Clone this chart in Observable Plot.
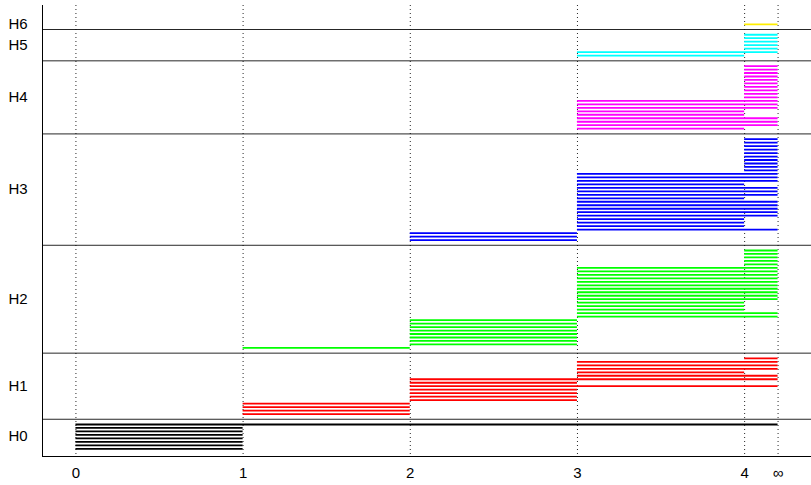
<!DOCTYPE html>
<html><head><meta charset="utf-8">
<script src="https://cdn.jsdelivr.net/npm/d3@7"></script>
<script src="https://cdn.jsdelivr.net/npm/@observablehq/plot@0.6"></script>
<style>body{margin:0;background:#fff}svg{display:block}</style>
</head><body><div id="chart"></div>
<script>
const INF = 4.2; // position of the "∞" column
const groupNames = ["H0", "H1", "H2", "H3", "H4", "H5", "H6"];
const groupColors = ["#000000", "#ff0000", "#00ff00", "#0000ff", "#ff00ff", "#00ffff", "#ffee00"];
const xTickValues = [0, 1, 2, 3, 4, "inf"];
const xTickLabels = ["0", "1", "2", "3", "4", "∞"];

// bars of each group, listed top to bottom: [birth, death]
const H0 = [[0,"inf"],[0,1],[0,1],[0,1],[0,1],[0,1],[0,1],[0,1]];
const H1 = [[4,"inf"],[3,"inf"],[3,"inf"],[3,"inf"],[3,4],[3,"inf"],[2,"inf"],[2,3],[2,"inf"],[2,3],[2,3],[2,3],[2,3],[1,2],[1,2],[1,2],[1,2]];
const H2 = [[4,"inf"],[4,"inf"],[4,"inf"],[4,"inf"],[4,"inf"],
  [3,"inf"],[3,"inf"],[3,"inf"],[3,"inf"],[3,"inf"],[3,"inf"],[3,"inf"],[3,"inf"],[3,"inf"],[3,"inf"],
  [3,4],[3,4],[3,4],[3,"inf"],[3,"inf"],
  [2,3],[2,3],[2,3],[2,3],[2,3],[2,3],[2,3],[2,3],[1,2]];
const H3 = [[4,"inf"],[4,"inf"],[4,"inf"],[4,"inf"],[4,"inf"],[4,"inf"],[4,"inf"],[4,"inf"],[4,"inf"],[4,"inf"],
  [3,"inf"],[3,"inf"],[3,"inf"],[3,4],[3,"inf"],[3,"inf"],[3,"inf"],[3,4],[3,"inf"],[3,"inf"],[3,"inf"],[3,"inf"],[3,"inf"],[3,4],[3,4],[3,4],[3,"inf"],
  [2,3],[2,3],[2,3]];
const H4 = [[4,"inf"],[4,"inf"],[4,"inf"],[4,"inf"],[4,"inf"],[4,"inf"],[4,"inf"],[4,"inf"],[4,"inf"],[4,"inf"],
  [3,"inf"],[3,"inf"],[3,"inf"],[3,4],[3,4],[3,"inf"],[3,"inf"],[3,"inf"],[3,4]];
const H5 = [[4,"inf"],[4,"inf"],[4,"inf"],[4,"inf"],[4,"inf"],[3,"inf"],[3,4]];
const H6 = [[4,"inf"]];
const groups = [H0, H1, H2, H3, H4, H5, H6];

const val = v => v === "inf" ? INF : v;
const GAP = 3; // row step between groups

const bars = [], labels = [], separators = [];
let start = 0;
groups.forEach((g, k) => {
  const rows = g.slice().reverse();
  rows.forEach((b, i) => bars.push({row: start + i, birth: val(b[0]), death: val(b[1]), color: groupColors[k]}));
  const last = start + rows.length - 1;
  labels.push({row: (start + last) / 2, name: groupNames[k]});
  if (k < groups.length - 1) separators.push(last + GAP / 2);
  start = last + GAP;
});
const ticks = xTickValues.map((v, i) => ({x: val(v), label: xTickLabels[i]}));
const xDomain = [-0.2, 4.4];
const yDomain = [-2.2, 127.4];

const chart = Plot.plot({
  width: 811, height: 485,
  marginLeft: 42, marginRight: 0, marginTop: 5, marginBottom: 29,
  x: {domain: xDomain, axis: null},
  y: {domain: yDomain, axis: null},
  color: {type: "identity"},
  style: {fontFamily: "'Liberation Sans', Arial, sans-serif", fontSize: "15px", color: "#000", background: "#fff"},
  marks: [
    Plot.ruleX(ticks, {x: "x", stroke: "#000", strokeDasharray: "1,3", strokeOpacity: 0.85}),
    Plot.ruleY(separators, {stroke: "#000", strokeWidth: 1, strokeOpacity: 0.85}),
    Plot.ruleY(bars, {y: "row", x1: "birth", x2: "death", stroke: "color", strokeWidth: 1.8}),
    Plot.ruleX([xDomain[0]], {stroke: "#000"}),
    Plot.ruleY([yDomain[0]], {stroke: "#000"}),
    Plot.text(ticks, {x: "x", text: "label", frameAnchor: "bottom", dy: 21, fill: "#000"}),
    Plot.text(labels, {y: "row", text: "name", frameAnchor: "left", dx: -34, textAnchor: "start", fill: "#000"})
  ]
});
document.getElementById("chart").appendChild(chart);
</script>
</body></html>
